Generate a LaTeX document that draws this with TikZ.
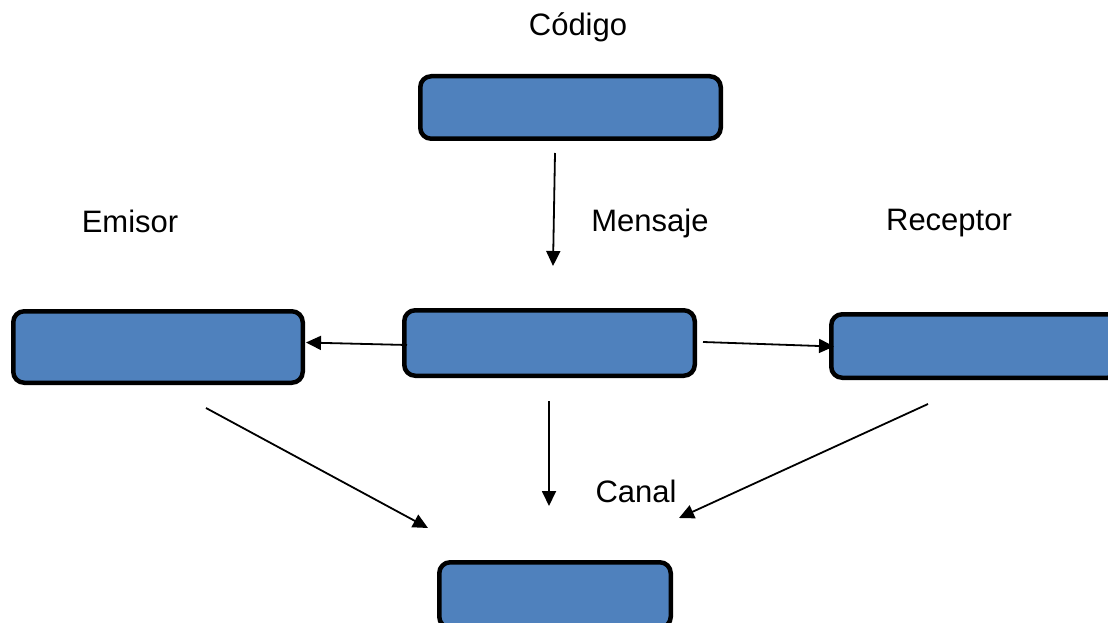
\documentclass[tikz,border=0pt]{standalone}
\usepackage{fontspec}
\setmainfont{Liberation Sans}
\usetikzlibrary{arrows.meta}
\definecolor{boxblue}{HTML}{4F81BD}
\tikzset{
  box/.style={draw=black, fill=boxblue, line width=4.5pt, rounded corners=11pt, inner sep=0pt, outer sep=0pt},
  lbl/.style={anchor=base, inner sep=0pt, font=\fontsize{31}{37}\selectfont},
  conn/.style={line width=1.8pt, -{Triangle[length=15pt,width=14pt]}}
}
\begin{document}
\begin{tikzpicture}[x=1pt,y=-1pt]
\useasboundingbox (0,0) rectangle (1108,623);
\clip (0,0) rectangle (1108,623);
% boxes
\node[box, minimum width=300.5pt, minimum height=62.5pt] (codigo) at (570.5,107.5) {};
\node[box, minimum width=289.5pt, minimum height=71.5pt] (emisor) at (158,347) {};
\node[box, minimum width=290.5pt, minimum height=65.5pt] (mensaje) at (549.5,343) {};
\node[box, minimum width=287.5pt, minimum height=63.5pt] (receptor) at (975,346) {};
\node[box, minimum width=231.5pt, minimum height=65.5pt] (canal) at (555,595) {};
% labels
\node[lbl] (tcodigo) at (578,36) {Código};
\node[lbl] (temisor) at (130,232) {Emisor};
\node[lbl] (tmensaje) at (650,231) {Mensaje};
\node[lbl] (treceptor) at (949,230) {Receptor};
\node[lbl] (tcanal) at (636,502) {Canal};
% connector end points
\coordinate (a1s) at (555,153);
\coordinate (a1e) at (553,266);
\coordinate (a2s) at (407,345);
\coordinate (a2e) at (306,342.5);
\coordinate (a3s) at (703,342);
\coordinate (a3e) at (834,346.5);
\coordinate (a4s) at (549,401);
\coordinate (a4e) at (549,506);
\coordinate (a5s) at (206,408);
\coordinate (a5e) at (428,528);
\coordinate (a6s) at (928,404);
\coordinate (a6e) at (679,518);
% connectors
\draw[conn] (a1s) -- (a1e);
\draw[conn] (a2s) -- (a2e);
\draw[conn] (a3s) -- (a3e);
\draw[conn] (a4s) -- (a4e);
\draw[conn] (a5s) -- (a5e);
\draw[conn] (a6s) -- (a6e);
\end{tikzpicture}
\end{document}
